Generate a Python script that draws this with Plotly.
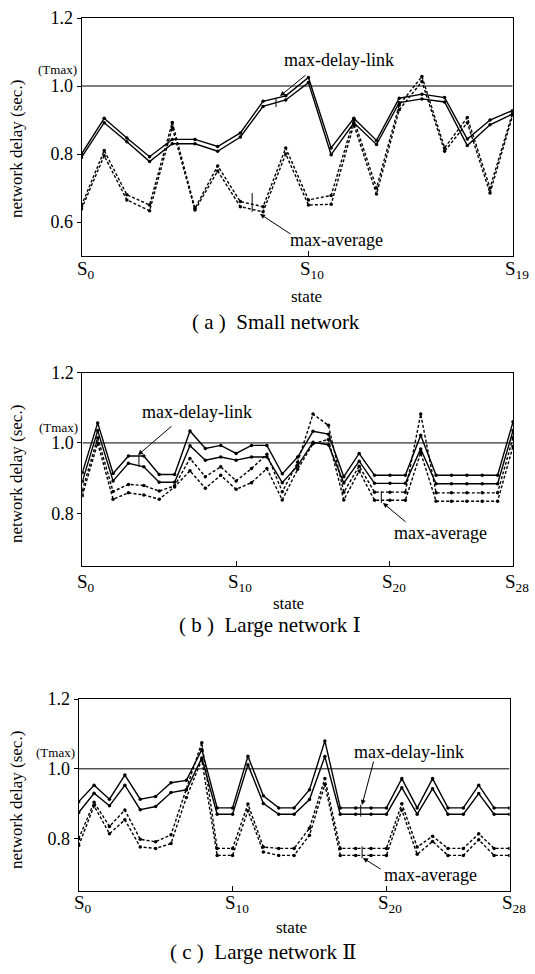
import plotly.graph_objects as go

W, H = 535, 974
FONT = "Liberation Serif, DejaVu Serif, Times New Roman, serif"

# ---------------- data ----------------
tmax = 1.0

# (a) Small network, states S0..S19
states_a = list(range(20))
a_link_upper = [0.80, 0.905, 0.847, 0.792, 0.843, 0.843, 0.822, 0.862, 0.955, 0.971,
                1.025, 0.818, 0.905, 0.840, 0.964, 0.976, 0.966, 0.844, 0.900, 0.928]
a_link_lower = [0.79, 0.892, 0.836, 0.778, 0.830, 0.830, 0.808, 0.850, 0.940, 0.959,
                1.010, 0.798, 0.892, 0.828, 0.951, 0.962, 0.953, 0.825, 0.886, 0.918]
a_avg_upper = [0.648, 0.810, 0.680, 0.650, 0.893, 0.640, 0.765, 0.660, 0.645, 0.818,
               0.665, 0.678, 0.902, 0.700, 0.944, 1.028, 0.818, 0.907, 0.700, 0.922]
a_avg_lower = [0.638, 0.795, 0.665, 0.633, 0.878, 0.635, 0.750, 0.645, 0.630, 0.800,
               0.650, 0.652, 0.887, 0.682, 0.930, 1.013, 0.808, 0.892, 0.685, 0.914]

# (b) Large network I, states S0..S28
states_b = list(range(29))
b_link_upper = [0.915, 1.057, 0.913, 0.963, 0.963, 0.910, 0.910, 1.034, 0.984, 0.993,
                0.970, 0.993, 0.993, 0.912, 0.960, 1.033, 1.025, 0.904, 0.970, 0.908,
                0.908, 0.908, 1.022, 0.908, 0.908, 0.908, 0.908, 0.908, 1.060]
b_link_lower = [0.890, 1.035, 0.892, 0.942, 0.932, 0.888, 0.888, 0.992, 0.951, 0.960,
                0.951, 0.960, 0.960, 0.887, 0.935, 1.002, 0.995, 0.886, 0.948, 0.885,
                0.885, 0.885, 0.983, 0.884, 0.884, 0.884, 0.884, 0.884, 1.035]
b_avg_upper = [0.865, 1.015, 0.862, 0.882, 0.879, 0.863, 0.878, 0.956, 0.904, 0.932,
               0.892, 0.927, 0.968, 0.861, 0.945, 1.082, 1.050, 0.860, 0.934, 0.860,
               0.860, 0.860, 1.082, 0.858, 0.858, 0.858, 0.858, 0.858, 1.015]
b_avg_lower = [0.850, 1.000, 0.840, 0.858, 0.852, 0.840, 0.875, 0.921, 0.871, 0.908,
               0.868, 0.887, 0.927, 0.838, 0.925, 0.998, 1.010, 0.838, 0.920, 0.837,
               0.837, 0.837, 0.972, 0.834, 0.834, 0.834, 0.834, 0.834, 0.990]

# (c) Large network II, states S0..S28
states_c = list(range(29))
c_link_upper = [0.906, 0.953, 0.913, 0.982, 0.913, 0.921, 0.960, 0.967, 1.055, 0.888,
                0.888, 1.036, 0.923, 0.888, 0.888, 0.940, 1.080, 0.888, 0.888, 0.888,
                0.888, 0.972, 0.888, 0.972, 0.888, 0.888, 0.953, 0.888, 0.888]
c_link_lower = [0.875, 0.930, 0.894, 0.953, 0.883, 0.892, 0.932, 0.940, 1.031, 0.870,
                0.870, 1.012, 0.901, 0.870, 0.870, 0.912, 1.035, 0.870, 0.870, 0.870,
                0.870, 0.946, 0.870, 0.943, 0.870, 0.870, 0.929, 0.870, 0.870]
c_avg_upper = [0.800, 0.904, 0.835, 0.882, 0.798, 0.791, 0.811, 0.940, 1.075, 0.772,
               0.772, 0.899, 0.776, 0.772, 0.772, 0.830, 0.972, 0.772, 0.772, 0.772,
               0.772, 0.900, 0.776, 0.807, 0.772, 0.772, 0.814, 0.772, 0.772]
c_avg_lower = [0.780, 0.894, 0.814, 0.854, 0.776, 0.772, 0.786, 0.918, 1.026, 0.752,
               0.752, 0.880, 0.762, 0.752, 0.752, 0.810, 0.955, 0.752, 0.752, 0.752,
               0.752, 0.882, 0.755, 0.792, 0.752, 0.752, 0.797, 0.752, 0.752]

x_ticks_a = [0, 10, 19]
x_labels_a = ["S<sub>0</sub>", "S<sub>10</sub>", "S<sub>19</sub>"]
x_ticks_bc = [0, 10, 20, 28]
x_labels_bc = ["S<sub>0</sub>", "S<sub>10</sub>", "S<sub>20</sub>", "S<sub>28</sub>"]

# ---------------- figure ----------------
def px_x(p):
    return p / W

def px_y(p):
    return 1 - p / H

panels = [
    dict(states=states_a, lu=a_link_upper, ll=a_link_lower, au=a_avg_upper, al=a_avg_lower,
         xa="x", ya="y", xdom=(81.5, 512.7), ydom=(18, 256), yr=(0.5, 1.2),
         yt=[0.6, 0.8, 1.0, 1.2], xt=x_ticks_a, xl=x_labels_a, lab_y=270,
         brackets=[(8.57, 0.938, 0.965), (7.52, 0.63, 0.685)]),
    dict(states=states_b, lu=b_link_upper, ll=b_link_lower, au=b_avg_upper, al=b_avg_lower,
         xa="x2", ya="y2", xdom=(82.3, 513.0), ydom=(372.6, 566), yr=(0.65, 1.2),
         yt=[0.8, 1.0, 1.2], xt=x_ticks_bc, xl=x_labels_bc, lab_y=583,
         brackets=[(3.68, 0.932, 0.962), (19.44, 0.829, 0.862)]),
    dict(states=states_c, lu=c_link_upper, ll=c_link_lower, au=c_avg_upper, al=c_avg_lower,
         xa="x3", ya="y3", xdom=(78.7, 509.5), ydom=(699, 891), yr=(0.65, 1.2),
         yt=[0.8, 1.0, 1.2], xt=x_ticks_bc, xl=x_labels_bc, lab_y=904,
         brackets=[(18.33, 0.863, 0.897), (18.42, 0.744, 0.778)]),
]

fig = go.Figure()
layout_axes = {}
annotations = []
shapes = []

for i, p in enumerate(panels):
    for ys, dash in [(p["lu"], "solid"), (p["ll"], "solid"), (p["au"], "3px,2px"), (p["al"], "3px,2px")]:
        fig.add_trace(go.Scatter(
            x=p["states"], y=ys, mode="lines+markers",
            line=dict(color="black", width=1.4, dash=dash),
            marker=dict(size=3.5, color="black"),
            xaxis=p["xa"], yaxis=p["ya"], showlegend=False, hoverinfo="skip"))
    fig.add_trace(go.Scatter(
        x=[p["states"][0], p["states"][-1]], y=[tmax, tmax], mode="lines",
        line=dict(color="black", width=1),
        xaxis=p["xa"], yaxis=p["ya"], showlegend=False, hoverinfo="skip"))
    sfx = "" if i == 0 else str(i + 1)
    layout_axes["xaxis" + sfx] = dict(
        domain=[px_x(p["xdom"][0]), px_x(p["xdom"][1])],
        range=[p["states"][0], p["states"][-1]],
        anchor=p["ya"], showgrid=False, zeroline=False, automargin=False,
        showline=True, mirror=True, linecolor="black", linewidth=1,
        ticks="inside", ticklen=5, tickcolor="black",
        tickvals=p["xt"], showticklabels=False)
    layout_axes["yaxis" + sfx] = dict(
        domain=[px_y(p["ydom"][1]), px_y(p["ydom"][0])],
        range=list(p["yr"]),
        anchor=p["xa"], showgrid=False, zeroline=False, automargin=False,
        showline=True, mirror=True, linecolor="black", linewidth=1,
        ticks="outside", ticklen=4, tickcolor="black",
        tickvals=p["yt"], ticktext=["%.1f" % v for v in p["yt"]],
        tickfont=dict(family=FONT, size=18, color="black"))
    # x tick labels (state names) as annotations on the axis scale
    for tv, tl in zip(p["xt"], p["xl"]):
        annotations.append(dict(text=tl, x=tv, xref=p["xa"], y=px_y(p["lab_y"]), yref="paper",
                                xshift=4, showarrow=False, xanchor="center", yanchor="middle",
                                font=dict(family=FONT, size=19, color="black")))
    # small brackets joining paired curves
    for bx, y0, y1 in p["brackets"]:
        shapes.append(dict(type="line", xref=p["xa"], yref=p["ya"], x0=bx, x1=bx, y0=y0, y1=y1,
                           line=dict(color="black", width=1)))


def text(s, x, y, size, angle=0, xanchor="center"):
    annotations.append(dict(text=s, x=px_x(x), y=px_y(y), xref="paper", yref="paper",
                            showarrow=False, xanchor=xanchor, yanchor="middle",
                            textangle=angle, font=dict(family=FONT, size=size, color="black")))

def arrow(hx, hy, tx, ty):
    annotations.append(dict(text="", x=px_x(hx), y=px_y(hy), xref="paper", yref="paper",
                            ax=tx - hx, ay=ty - hy, showarrow=True, arrowhead=2,
                            arrowsize=1, arrowwidth=1, arrowcolor="black"))

# y titles
for yc in (149, 474, 800):
    text("network delay (sec.)", 16, yc, 17, angle=-90)
# (Tmax)
text("(Tmax)", 79, 69, 13, xanchor="right")
text("(Tmax)", 80, 428, 13, xanchor="right")
text("(Tmax)", 77, 752, 13, xanchor="right")
# x titles
text("state", 306, 296, 17)
text("state", 288, 603, 17)
text("state", 291, 927, 17)
# captions
text("( a )  Small network", 276, 322, 21)
text("( b )  Large network \u2160", 270, 625, 21)
text("( c )  Large network \u2161", 263, 952, 21)
# series labels + arrows
text("max-delay-link", 339, 60, 18)
arrow(280, 96, 307, 74)
text("max-average", 336, 240, 18)
arrow(260, 214, 292, 235)

text("max-delay-link", 197, 412, 18)
arrow(138, 455, 173, 425)
text("max-average", 440, 533, 18)
arrow(383, 503, 407, 523)

text("max-delay-link", 409, 752, 18)
arrow(362, 805, 374, 760)
text("max-average", 430, 875, 18)
arrow(363, 858, 382, 870)

fig.update_layout(
    template="none",
    width=W, height=H,
    margin=dict(l=0, r=0, t=0, b=0, pad=0),
    paper_bgcolor="white", plot_bgcolor="white",
    showlegend=False,
    font=dict(family=FONT, color="black"),
    annotations=annotations,
    shapes=shapes,
    **layout_axes)

fig.write_html("out.html",
               config={"displayModeBar": False, "staticPlot": True},
               post_script="document.body.style.margin='0';document.body.style.overflow='hidden';")
